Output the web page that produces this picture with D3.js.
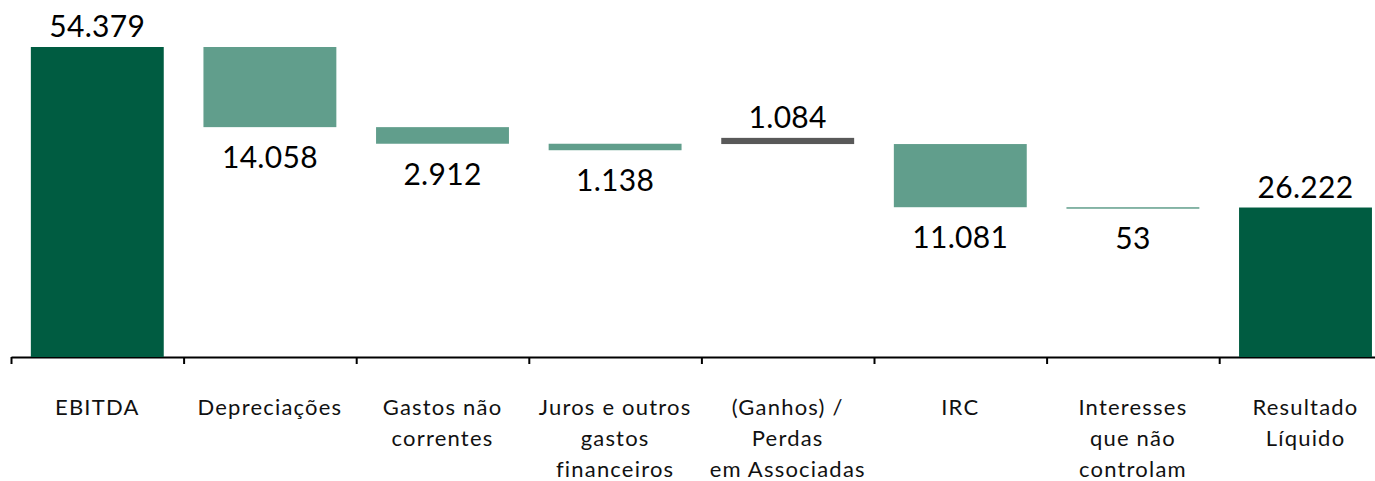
<!DOCTYPE html>
<html>
<head>
<meta charset="utf-8">
<script src="https://cdn.jsdelivr.net/npm/d3@7"></script>
<style>
 body { margin: 0; background: #fff; }
 svg { display: block; font-family: Lato, "Noto Sans", sans-serif; }
 .valueLabel { font-size: 30px; fill: #000; text-anchor: middle; letter-spacing: 0.3px; }
 .catLabel { font-size: 22px; fill: #111; text-anchor: middle; letter-spacing: 1.2px; }
 .axis path, .axis line { stroke: #000; stroke-width: 2; }
</style>
</head>
<body>
<svg width="1375" height="481"></svg>
<script>
const categories = [
 ["EBITDA"],
 ["Depreciações"],
 ["Gastos não", "correntes"],
 ["Juros e outros", "gastos", "financeiros"],
 ["(Ganhos) /", "Perdas", "em Associadas"],
 ["IRC"],
 ["Interesses", "que não", "controlam"],
 ["Resultado", "Líquido"]
];
// step type: total bar, cost (goes down), gain (grey)
const kinds = ["total", "cost", "cost", "cost", "gain", "cost", "cost", "total"];
const values = [54379, -14058, -2912, -1138, 1084, -11081, -53, 26222];
const valueLabels = ["54.379", "14.058", "2.912", "1.138", "1.084", "11.081", "53", "26.222"];

const colors = { total: "#005c41", cost: "#619e8c", gain: "#595959" };

const svg = d3.select("svg");
const step = 172.6;
const x0 = 11;
const baseY = 357;

const xScale = d3
 .scaleBand()
 .range([x0, x0 + step * categories.length])
 .domain(d3.range(categories.length))
 .paddingInner(0.23)
 .paddingOuter(0.115);

const yScale = d3
 .scaleLinear()
 .domain([0, d3.max(values)])
 .range([baseY, 47]);

// build waterfall segments
let level = 0;
const bars = values.map((v, i) => {
 let lo, hi;
 if (kinds[i] == "total") {
  lo = 0;
  hi = v;
  level = v;
 } else if (kinds[i] == "cost") {
  lo = level + v;
  hi = level;
  level = lo;
 } else {
  // gain sits on top of the new level, as in the original
  level = level + v;
  lo = level;
  hi = level + v;
 }
 return { i, lo, hi, kind: kinds[i], label: valueLabels[i] };
});

// axis: line from first boundary to the right edge, ticks on band boundaries
const bounds = d3
 .scaleLinear()
 .domain([0, categories.length])
 .range([x0, x0 + step * categories.length]);

svg
 .append("g")
 .attr("class", "axis")
 .attr("transform", `translate(0,${baseY})`)
 .call(
  d3.axisBottom(bounds)
   .tickValues(d3.range(categories.length + 1))
   .tickSize(7)
   .tickSizeOuter(0)
   .tickFormat("")
 );

svg
 .selectAll(".bar")
 .data(bars)
 .enter()
 .append("rect")
 .attr("class", "bar")
 .attr("x", d => xScale(d.i))
 .attr("width", xScale.bandwidth())
 .attr("y", d => yScale(d.hi))
 .attr("height", d => Math.max(1.5, yScale(d.lo) - yScale(d.hi)))
 .attr("fill", d => colors[d.kind]);

svg
 .selectAll(".valueLabel")
 .data(bars)
 .enter()
 .append("text")
 .attr("class", "valueLabel")
 .attr("x", d => xScale(d.i) + xScale.bandwidth() / 2)
 .attr("y", d => (d.kind == "cost" ? yScale(d.lo) + 41 : yScale(d.hi) - 10))
 .text(d => d.label);

const catText = svg
 .selectAll(".catLabel")
 .data(categories)
 .enter()
 .append("text")
 .attr("class", "catLabel")
 .attr("y", 415);

catText
 .selectAll("tspan")
 .data((d, i) => d.map(line => ({ line, i })))
 .enter()
 .append("tspan")
 .attr("x", d => xScale(d.i) + xScale.bandwidth() / 2)
 .attr("dy", (d, k) => (k == 0 ? 0 : 31))
 .text(d => d.line);
</script>
</body>
</html>
